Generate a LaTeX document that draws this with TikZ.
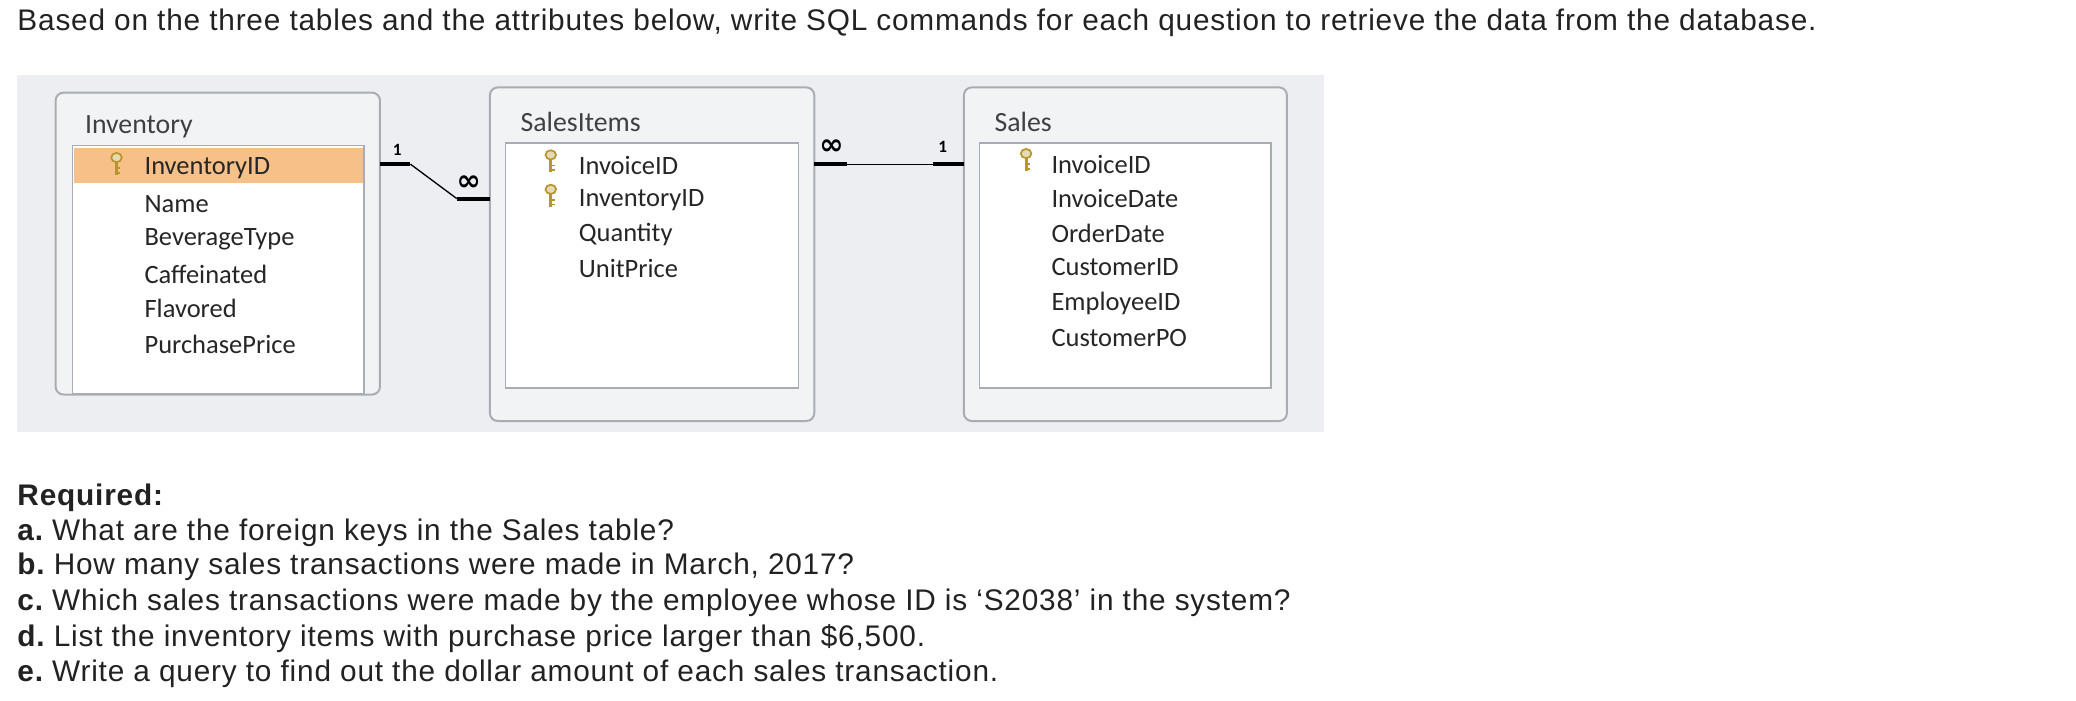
\documentclass[tikz,border=0pt]{standalone}
\usepackage{fontspec}
\setmainfont{Liberation Sans}[LetterSpace=2.7]
\newfontfamily\tabfont{Carlito}
\newfontfamily\djfont{DejaVu Sans}
\definecolor{bgg}{HTML}{ECEEF1}
\definecolor{frm}{HTML}{A9ADB3}
\definecolor{hil}{HTML}{F6C088}
\definecolor{keyc}{HTML}{B8962E}
\definecolor{txt}{HTML}{222222}
\begin{document}
\begin{tikzpicture}[x=1pt,y=-1pt,
  q/.style={anchor=base west,inner sep=0pt,font=\fontsize{22.5}{24}\selectfont,text=txt},
  fld/.style={anchor=west,inner sep=0pt,font=\tabfont\fontsize{20}{22}\selectfont,text=black!85},
  ttl/.style={anchor=west,inner sep=0pt,font=\tabfont\fontsize{21}{24}\selectfont,text=black!75},
  outer/.style={draw=frm,line width=1.5pt,rounded corners=6pt,fill=bgg!70!white},
  inner/.style={draw=frm,line width=1pt,fill=white},
  thk/.style={line width=3pt},
  card/.style={inner sep=0pt,font=\tabfont\bfseries\fontsize{13}{13}\selectfont},
  inf/.style={inner sep=0pt,font=\djfont\bfseries\fontsize{22}{22}\selectfont}]
\useasboundingbox (0,0) rectangle (1568,529);
\node[q] (t0) at (13,23) {Based on the three tables and the attributes below, write SQL commands for each question to retrieve the data from the database.};
\fill[bgg] (13,57) rectangle (1000,326);
% Inventory
\draw[outer] (42,70) rectangle (287,298);
\draw[inner] (55,110) rectangle (275,297);
\fill[hil] (56,112) rectangle (274,138);
\node[ttl] (it) at (64,96) {Inventory};
% SalesItems
\draw[outer] (370,66) rectangle (615,318);
\draw[inner] (382,108) rectangle (603,293);
\node[ttl] (sit) at (393,92) {SalesItems};
% Sales
\draw[outer] (728,66) rectangle (972,318);
\draw[inner] (740,108) rectangle (960,293);
\node[ttl] (st) at (751,92) {Sales};
% key icon
\newcommand\keyicon[1]{\begin{scope}[shift={#1}]
 \draw[keyc,line width=1.3pt,fill=keyc!35] (0,-6) ellipse (4pt and 3.5pt);
 \draw[keyc,line width=2.2pt] (0,-2.5) -- (0,7);
 \draw[keyc,line width=1.3pt] (0,2) -- (3,2) (0,5.5) -- (3,5.5);
\end{scope}}
\keyicon{(88,125)}
\keyicon{(416,123)}\keyicon{(416,149)}
\keyicon{(775,122)}
% fields
\node[fld] (i1) at (109,127) {InventoryID};
\node[fld] (i2) at (109,154) {Name};
\node[fld] (i3) at (109,181) {BeverageType};
\node[fld] (i4) at (109,207) {Caffeinated};
\node[fld] (i5) at (109,233) {Flavored};
\node[fld] (i6) at (109,260) {PurchasePrice};
\node[fld] (s1) at (437,125) {InvoiceID};
\node[fld] (s2) at (437,151) {InventoryID};
\node[fld] (s3) at (437,177) {Quantity};
\node[fld] (s4) at (437,203) {UnitPrice};
\node[fld] (a1) at (794,124) {InvoiceID};
\node[fld] (a2) at (794,150) {InvoiceDate};
\node[fld] (a3) at (794,176) {OrderDate};
\node[fld] (a4) at (794,202) {CustomerID};
\node[fld] (a5) at (794,229) {EmployeeID};
\node[fld] (a6) at (794,255) {CustomerPO};
% relationships
\coordinate (r1a) at (287,124); \coordinate (r1b) at (310,124);
\coordinate (r1c) at (345,150); \coordinate (r1d) at (370,150);
\draw[thk] (r1a) -- (r1b); \draw[line width=1pt] (r1b) -- (r1c); \draw[thk] (r1c) -- (r1d);
\node[card] (c1) at (300,113) {1};
\node[inf] (c2) at (354,138) {∞};
\coordinate (r2a) at (615,124); \coordinate (r2b) at (640,124);
\coordinate (r2c) at (705,124); \coordinate (r2d) at (728,124);
\draw[thk] (r2a) -- (r2b); \draw[line width=1pt] (r2b) -- (r2c); \draw[thk] (r2c) -- (r2d);
\node[inf] (c3) at (628,111) {∞};
\node[card] (c4) at (712,111) {1};
% questions
\node[q] (rq) at (13,382) {\bfseries Required:};
\node[q] (qa) at (13,408) {\bfseries a.\ \mdseries What are the foreign keys in the Sales table?};
\node[q] (qb) at (13,434) {\bfseries b.\ \mdseries How many sales transactions were made in March, 2017?};
\node[q] (qc) at (13,461) {\bfseries c.\ \mdseries Which sales transactions were made by the employee whose ID is ‘S2038’ in the system?};
\node[q] (qd) at (13,488) {\bfseries d.\ \mdseries List the inventory items with purchase price larger than \$6,500.};
\node[q] (qe) at (13,515) {\bfseries e.\ \mdseries Write a query to find out the dollar amount of each sales transaction.};
\end{tikzpicture}
\end{document}
